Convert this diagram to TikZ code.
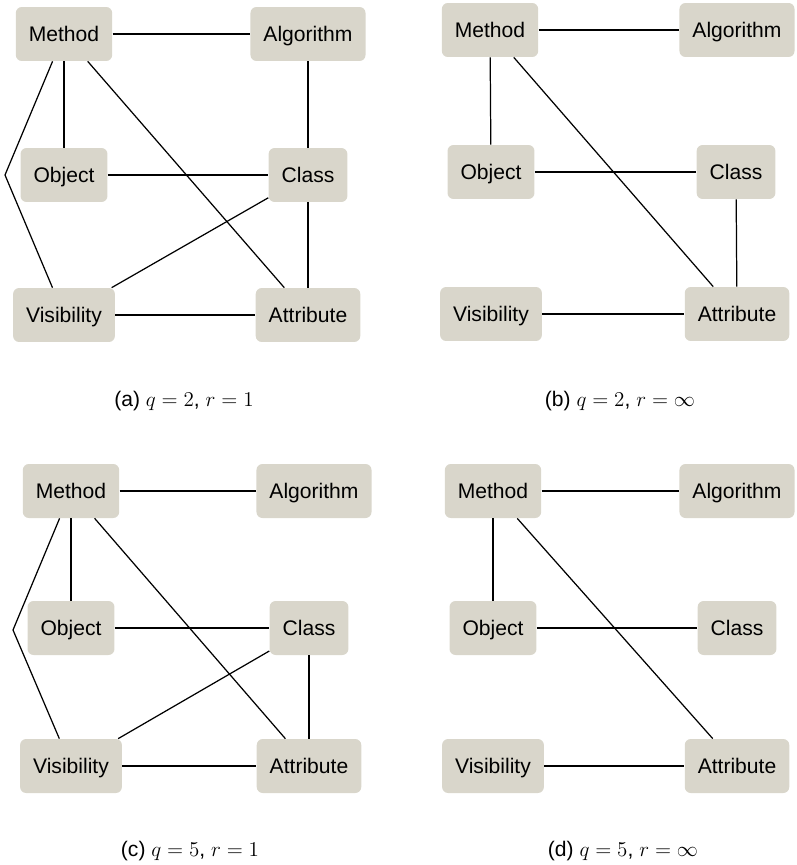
\documentclass[tikz,border=0pt]{standalone}
\usepackage{fontspec}
\newfontfamily\boxfont{Liberation Sans}
\definecolor{boxfill}{RGB}{217,214,203}
\tikzset{
  concept/.style={fill=boxfill, rounded corners=0.12cm, minimum height=1.08cm,
    inner xsep=0.26cm, text height=8.6pt, text depth=0pt,
    font=\boxfont\fontsize{12}{14}\selectfont},
  link/.style={line width=0.7pt},
  subcap/.style={anchor=base, font=\boxfont\fontsize{12}{14}\selectfont}
}
\begin{document}
\begin{tikzpicture}[x=0.02cm,y=-0.02cm]
  \useasboundingbox (0,0) rectangle (797,865);
  % (a) q=2, r=1
  \node[concept] (a-method) at (64,34) {Method};
  \node[concept] (a-algorithm) at (308,34) {Algorithm};
  \node[concept] (a-object) at (64,175) {Object};
  \node[concept] (a-class) at (308,175) {Class};
  \node[concept] (a-visibility) at (64,315) {Visibility};
  \node[concept] (a-attribute) at (308,315) {Attribute};
  \coordinate (a-bend) at (5,175);
  \draw[link] (a-method) -- (a-algorithm);
  \draw[link] (a-method) -- (a-object);
  \draw[link] (a-method) -- (a-attribute);
  \draw[link] (a-method) -- (a-bend) -- (a-visibility);
  \draw[link] (a-algorithm) -- (a-class);
  \draw[link] (a-object) -- (a-class);
  \draw[link] (a-class) -- (a-visibility);
  \draw[link] (a-class) -- (a-attribute);
  \draw[link] (a-visibility) -- (a-attribute);
  \node[subcap] (a-cap) at (184,406) {(a) $q=2$, $r=1$};
  % (b) q=2, r=infinity
  \node[concept] (b-method) at (490,30) {Method};
  \node[concept] (b-algorithm) at (737,30) {Algorithm};
  \node[concept] (b-object) at (491,172) {Object};
  \node[concept] (b-class) at (736,172) {Class};
  \node[concept] (b-visibility) at (491,314) {Visibility};
  \node[concept] (b-attribute) at (737,314) {Attribute};
  \draw[link] (b-method) -- (b-algorithm);
  \draw[link] (b-method) -- (b-object);
  \draw[link] (b-method) -- (b-attribute);
  \draw[link] (b-object) -- (b-class);
  \draw[link] (b-class) -- (b-attribute);
  \draw[link] (b-visibility) -- (b-attribute);
  \node[subcap] (b-cap) at (620,406) {(b) $q=2$, $r=\infty$};
  % (c) q=5, r=1
  \node[concept] (c-method) at (71,491) {Method};
  \node[concept] (c-algorithm) at (314,491) {Algorithm};
  \node[concept] (c-object) at (71,628) {Object};
  \node[concept] (c-class) at (309,628) {Class};
  \node[concept] (c-visibility) at (71,766) {Visibility};
  \node[concept] (c-attribute) at (309,766) {Attribute};
  \coordinate (c-bend) at (13,630);
  \draw[link] (c-method) -- (c-algorithm);
  \draw[link] (c-method) -- (c-object);
  \draw[link] (c-method) -- (c-attribute);
  \draw[link] (c-method) -- (c-bend) -- (c-visibility);
  \draw[link] (c-object) -- (c-class);
  \draw[link] (c-class) -- (c-visibility);
  \draw[link] (c-class) -- (c-attribute);
  \draw[link] (c-visibility) -- (c-attribute);
  \node[subcap] (c-cap) at (190,856) {(c) $q=5$, $r=1$};
  % (d) q=5, r=infinity
  \node[concept] (d-method) at (493,491) {Method};
  \node[concept] (d-algorithm) at (737,491) {Algorithm};
  \node[concept] (d-object) at (493,628) {Object};
  \node[concept] (d-class) at (737,628) {Class};
  \node[concept] (d-visibility) at (493,766) {Visibility};
  \node[concept] (d-attribute) at (737,766) {Attribute};
  \draw[link] (d-method) -- (d-algorithm);
  \draw[link] (d-method) -- (d-object);
  \draw[link] (d-method) -- (d-attribute);
  \draw[link] (d-object) -- (d-class);
  \draw[link] (d-visibility) -- (d-attribute);
  \node[subcap] (d-cap) at (623,856) {(d) $q=5$, $r=\infty$};
\end{tikzpicture}
\end{document}
